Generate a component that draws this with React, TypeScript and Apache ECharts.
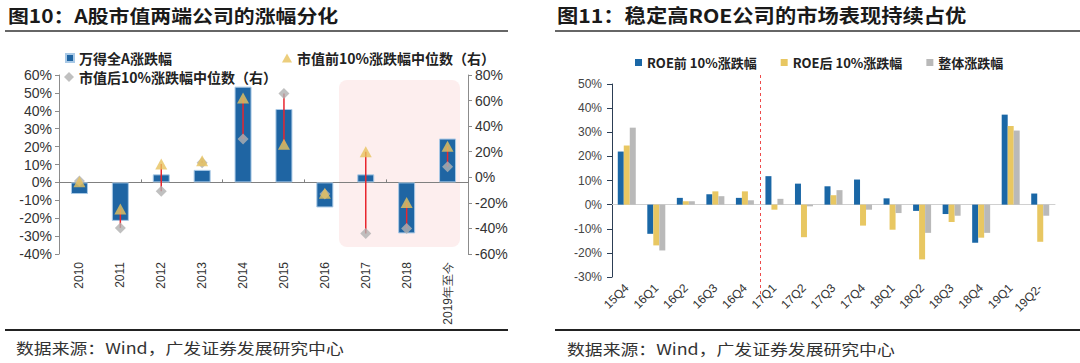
import React, { useEffect, useRef } from "react";
import * as echarts from "echarts";

// ---- Figure 10 data ----
const years = ["2010", "2011", "2012", "2013", "2014", "2015", "2016", "2017", "2018", "2019年至今"];
const windA = [-6.5, -21.5, 4.5, 7, 53.5, 41, -14, 4.5, -28.5, 24.5];
const top10Median = [-3.5, -24.8, 10.4, 13, 62, 25.8, -12.5, 20, -19.7, 24.2];
const bottom10Median = [-3, -39.6, -11, 11.4, 30, 65.6, -13, -44, -40, 8.3];
const leftTicks = { min: -40, max: 60, interval: 10 };
const rightTicks = { min: -60, max: 80, interval: 20 };

// ---- Figure 11 data ----
const quarters = ["15Q4", "16Q1", "16Q2", "16Q3", "16Q4", "17Q1", "17Q2", "17Q3", "17Q4", "18Q1", "18Q2", "18Q3", "18Q4", "19Q1", "19Q2-"];
const roeTop = [22, -12.1, 2.8, 4.3, 2.8, 11.8, 8.7, 7.6, 10.4, 2.6, -2.6, -3.9, -15.8, 37.3, 4.6];
const roeBottom = [24.5, -16.9, 1.4, 5.5, 5.5, -2.1, -13.5, 3.9, -8.7, -10.4, -22.7, -7.2, -13.7, 32.6, -15.4];
const overall = [31.9, -19, 1.4, 3.5, 1.8, 2.4, -0.7, 6, -2.1, -3.5, -11.7, -4.6, -11.7, 30.7, -4.6];
const roeTicks = { min: -30, max: 50, interval: 10 };

const names = {
  windA: "万得全A涨跌幅",
  top10: "市值前10%涨跌幅中位数（右）",
  bottom10: "市值后10%涨跌幅中位数（右）",
  roeTop: "ROE前 10%涨跌幅",
  roeBottom: "ROE后 10%涨跌幅",
  overall: "整体涨跌幅",
};

const CJK = "'Noto Sans CJK SC', 'Liberation Sans', sans-serif";
const NUM = "'Liberation Sans', Arial, sans-serif";
const pct = (v: number) => `${v}%`;

export default function App() {
  const ref = useRef<HTMLDivElement>(null);
  useEffect(() => {
    if (!ref.current) return;
    const chart = echarts.init(ref.current, null, { renderer: "svg" });
    const legendText = { fontFamily: CJK, fontWeight: "bold", color: "#222" };
    const option: any = {
      animation: false,
      backgroundColor: "#fff",
      grid: [
        { left: 59, right: 612, top: 75, bottom: 109 },
        { left: 612, right: 25, top: 84, bottom: 86 },
      ],
      legend: [
        { data: [{ name: names.windA, icon: "rect" }], left: 60, top: 46, itemWidth: 8, itemHeight: 8, textStyle: { ...legendText, fontSize: 14 } },
        { data: [{ name: names.top10, icon: "triangle" }], left: 277, top: 46, itemWidth: 10, itemHeight: 9, textStyle: { ...legendText, fontSize: 14 } },
        { data: [{ name: names.bottom10, icon: "diamond" }], left: 59, top: 65, itemWidth: 10, itemHeight: 10, textStyle: { ...legendText, fontSize: 14 } },
        {
          data: [
            { name: names.roeTop, icon: "rect" },
            { name: names.roeBottom, icon: "rect" },
            { name: names.overall, icon: "rect" },
          ],
          left: 630, top: 51, itemWidth: 7, itemHeight: 7, itemGap: 24,
          textStyle: { ...legendText, fontSize: 13 },
        },
      ],
      xAxis: [
        {
          type: "category", gridIndex: 0, data: years,
          axisLine: { show: false, onZero: false }, axisTick: { show: false },
          axisLabel: { rotate: 90, interval: 0, margin: 8, fontSize: 12, color: "#333", fontFamily: NUM },
        },
        {
          type: "category", gridIndex: 0, data: years,
          axisLine: { show: true, onZero: true, onZeroAxisIndex: 0, lineStyle: { color: "#808080", width: 1 } },
          axisTick: { show: true, length: 3, lineStyle: { color: "#808080" } },
          axisLabel: { show: false },
        },
        {
          type: "category", gridIndex: 1, data: quarters,
          axisLine: { show: false, onZero: false }, axisTick: { show: false },
          axisLabel: { rotate: 45, interval: 0, margin: 9, fontSize: 12, color: "#333", fontFamily: NUM },
        },
        {
          type: "category", gridIndex: 1, data: quarters,
          axisLine: { show: true, onZero: true, onZeroAxisIndex: 2, lineStyle: { color: "#d0d0d0", width: 1 } },
          axisTick: { show: false }, axisLabel: { show: false },
        },
      ],
      yAxis: [
        {
          type: "value", gridIndex: 0, ...leftTicks, splitLine: { show: false },
          axisLine: { show: true, lineStyle: { color: "#8c8c8c" } },
          axisTick: { show: true, length: 4, lineStyle: { color: "#8c8c8c" } },
          axisLabel: { formatter: pct, fontSize: 14, color: "#333", fontFamily: NUM, margin: 7 },
        },
        {
          type: "value", gridIndex: 0, position: "right", ...rightTicks, splitLine: { show: false },
          axisLine: { show: true, lineStyle: { color: "#8c8c8c" } },
          axisTick: { show: true, length: 4, lineStyle: { color: "#8c8c8c" } },
          axisLabel: { formatter: pct, fontSize: 14, color: "#333", fontFamily: NUM, margin: 7 },
        },
        {
          type: "value", gridIndex: 1, ...roeTicks, splitLine: { show: false },
          axisLine: { show: true, lineStyle: { color: "#2c3e55" } },
          axisTick: { show: true, length: 5, lineStyle: { color: "#2c3e55" } },
          axisLabel: { formatter: pct, fontSize: 12, color: "#444", fontFamily: NUM, margin: 10 },
        },
      ],
      series: [
        {
          name: names.windA, type: "bar", xAxisIndex: 0, yAxisIndex: 0, data: windA, barWidth: 17,
          itemStyle: { color: "#1f65a3", borderColor: "#a9c9e6", borderWidth: 1 }, z: 2,
        },
        {
          name: "range", type: "custom", xAxisIndex: 0, yAxisIndex: 1,
          data: years.map((_, i) => [i, top10Median[i], bottom10Median[i]]),
          encode: { x: 0, y: [1, 2] }, z: 3,
          renderItem: (params: any, api: any) => {
            const x = api.value(0);
            const p1 = api.coord([x, api.value(1)]);
            const p2 = api.coord([x, api.value(2)]);
            return {
              type: "line",
              shape: { x1: p1[0], y1: p1[1], x2: p2[0], y2: p2[1] },
              style: { stroke: "#e8262e", lineWidth: 1.5 },
            };
          },
        },
        {
          name: names.top10, type: "scatter", xAxisIndex: 0, yAxisIndex: 1, data: top10Median,
          symbol: "triangle", symbolSize: [12, 11], itemStyle: { color: "#e7c25c" }, z: 5,
        },
        {
          name: names.bottom10, type: "scatter", xAxisIndex: 0, yAxisIndex: 1, data: bottom10Median,
          symbol: "diamond", symbolSize: 11, itemStyle: { color: "#b0b0b0" }, z: 4,
        },
        {
          name: names.roeTop, type: "bar", xAxisIndex: 2, yAxisIndex: 2, data: roeTop,
          barWidth: 6, barGap: "0%", itemStyle: { color: "#1a67a6" },
        },
        {
          name: names.roeBottom, type: "bar", xAxisIndex: 2, yAxisIndex: 2, data: roeBottom,
          barWidth: 6, barGap: "0%", itemStyle: { color: "#e8c762" },
        },
        {
          name: names.overall, type: "bar", xAxisIndex: 2, yAxisIndex: 2, data: overall,
          barWidth: 6, barGap: "0%", itemStyle: { color: "#b9b9b9" },
        },
      ],
      graphic: [
        { id: "shade", type: "rect", z: -1, shape: { x: 339, y: 80, width: 121, height: 167, r: 8 }, style: { fill: "#fdeeee" } },
        {
          id: "t1", type: "text", x: 8, y: 15, scaleX: 1.16,
          style: { text: "图10：A股市值两端公司的涨幅分化", fontSize: 18, fontWeight: "bold", fontFamily: CJK, fill: "#1a1a1a", verticalAlign: "middle" },
        },
        {
          id: "t2", type: "text", x: 557, y: 15, scaleX: 1.12,
          style: { text: "图11：稳定高ROE公司的市场表现持续占优", fontSize: 19, fontWeight: "bold", fontFamily: CJK, fill: "#1a1a1a", verticalAlign: "middle" },
        },
        { id: "l1", type: "line", shape: { x1: 5, y1: 31, x2: 508, y2: 31 }, style: { stroke: "#333", lineWidth: 1.5 } },
        { id: "l2", type: "line", shape: { x1: 555, y1: 31, x2: 1080, y2: 31 }, style: { stroke: "#333", lineWidth: 1.5 } },
        { id: "l3", type: "line", shape: { x1: 5, y1: 330, x2: 508, y2: 330 }, style: { stroke: "#222", lineWidth: 2 } },
        { id: "l4", type: "line", shape: { x1: 555, y1: 330, x2: 1080, y2: 330 }, style: { stroke: "#222", lineWidth: 2 } },
        {
          id: "s1", type: "text", x: 16, y: 348, scaleX: 1.19,
          style: { text: "数据来源：Wind，广发证券发展研究中心", fontSize: 15, fontFamily: CJK, fill: "#333", verticalAlign: "middle" },
        },
        {
          id: "s2", type: "text", x: 567, y: 349, scaleX: 1.19,
          style: { text: "数据来源：Wind，广发证券发展研究中心", fontSize: 15, fontFamily: CJK, fill: "#333", verticalAlign: "middle" },
        },
      ],
    };
    chart.setOption(option);
    const a = chart.convertToPixel({ xAxisIndex: 2 } as any, quarters[4]) as unknown as number;
    const b = chart.convertToPixel({ xAxisIndex: 2 } as any, quarters[5]) as unknown as number;
    const xm = Math.round((a + b) / 2) + 0.5;
    chart.setOption({
      graphic: [
        {
          id: "divider", type: "line", z: 10,
          shape: { x1: xm, y1: 75, x2: xm, y2: 302 },
          style: { stroke: "#ee4b4b", lineWidth: 1, lineDash: [3, 3] },
        },
      ],
    });
    return () => chart.dispose();
  }, []);
  return <div ref={ref} style={{ position: "absolute", left: 0, top: 0, width: 1080, height: 363 }} />;
}
